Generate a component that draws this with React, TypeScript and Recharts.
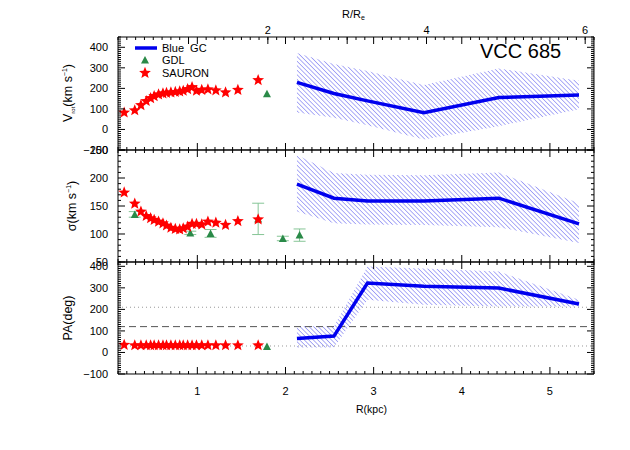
import React from 'react';
import { ComposedChart, Line, Area, Scatter, XAxis, YAxis, ReferenceLine, ErrorBar } from 'recharts';

// galaxy effective radius in kpc, used for the upper R/Re axis
const RE = 0.9;

const kpcTicks = [1, 2, 3, 4, 5];
const reTicks = [1, 2, 3, 4, 5, 6];
const reLabels = ['', '2', '', '4', '', '6'];
const vTicks = [-100, 0, 100, 200, 300, 400];
const sigTicks = [50, 100, 150, 200, 250];
const paTicks = [-100, 0, 100, 200, 300, 400];

// SAURON (stars)
const sauronR = [0.17, 0.29, 0.36, 0.42, 0.47, 0.51, 0.56, 0.61, 0.65, 0.7, 0.75, 0.8, 0.84, 0.89, 0.94, 0.99, 1.05, 1.12, 1.21, 1.32, 1.46, 1.69];
const sauronV = [82, 93, 118, 138, 152, 162, 170, 175, 178, 180, 182, 185, 188, 196, 206, 188, 192, 195, 190, 180, 192, 240];
const sauronSig = [174, 154, 140, 132, 128, 125, 122, 119, 115, 111, 109, 108, 110, 113, 118, 118, 117, 122, 120, 116, 123, 126];
const sauronPA = [35, 33, 33, 33, 33, 33, 33, 33, 33, 33, 33, 33, 33, 33, 33, 33, 33, 33, 33, 33, 33, 33];

// GDL (triangles)
const gdlVR = [1.79];
const gdlV = [174];
const gdlSigR = [0.29, 0.92, 1.15, 1.69, 1.97, 2.16];
const gdlSig = [135, 102, 101, 127, 92, 98];
const gdlSigErr = [5, 3, 7, 28, 4, 11];
const gdlPAR = [1.79];
const gdlPA = [28];

// Blue GCs (line + hatched band)
const gcR = [2.13, 2.55, 2.93, 3.57, 4.42, 5.33];
const gcV = [229, 175, 139, 82, 155, 168];
const gcVLo = [82, 57, 20, -49, 16, 98];
const gcVHi = [372, 319, 284, 216, 297, 237];
const gcSig = [189, 164, 159, 159, 164, 118];
const gcSigLo = [140, 119, 117, 116, 112, 84];
const gcSigHi = [241, 209, 206, 205, 210, 155];
const gcPA = [65, 76, 322, 308, 299, 225];
const gcPALo = [23, 23, 245, 222, 214, 214];
const gcPAHi = [122, 122, 399, 390, 376, 245];

const W = 630;
const H = 450;
const LEFT = 118;
const RIGHT = 36;
const PR = W - RIGHT; // plot right edge
const AX = 0.01; // axes need a non-zero size to be drawn
const FONT = '"Liberation Sans", "DejaVu Sans", sans-serif';
const BLUE = '#0000ee';
const RED = '#ff0000';
const GREEN = '#2a8a48';
const XDOM = [0.1, 5.5];

const range = (a: number, b: number, s: number) => {
  const out: number[] = [];
  for (let v = a; v <= b + 1e-9; v += s) out.push(Math.round(v * 1000) / 1000);
  return out;
};

const pts = (xs: number[], ys: number[], err?: number[]) =>
  xs.map((x, i) => ({ x, y: ys[i], err: err ? err[i] : 0 }));

const band = (v: number[], lo: number[], hi: number[]) =>
  gcR.map((x, i) => ({ x, v: v[i], range: [lo[i], hi[i]] }));

const fmt = (v: number) => String(v).replace('-', '\u2212');

const starPoints = (cx: number, cy: number, R: number, r: number) => {
  const p: string[] = [];
  for (let i = 0; i < 10; i++) {
    const a = -Math.PI / 2 + (i * Math.PI) / 5;
    const rad = i % 2 === 0 ? R : r;
    p.push(`${cx + rad * Math.cos(a)},${cy + rad * Math.sin(a)}`);
  }
  return p.join(' ');
};

const Star = (props: any) => <polygon points={starPoints(props.cx, props.cy, 6.2, 2.7)} fill={RED} />;
const Tri = (props: any) => (
  <polygon points={`${props.cx - 4},${props.cy + 3.5} ${props.cx + 4},${props.cy + 3.5} ${props.cx},${props.cy - 4}`} fill={GREEN} />
);

// inward IDL-style ticks on bottom and top edge of a panel
const XTick = (props: any) => {
  const { x, payload, top, bottom, majors, showLabel } = props;
  const v = payload.value;
  const major = majors.some((m: number) => Math.abs(m - v) < 1e-6);
  const len = major ? 7 : 3;
  return (
    <g>
      <line x1={x} y1={bottom} x2={x} y2={bottom - len} stroke="#000" />
      <line x1={x} y1={top} x2={x} y2={top + len} stroke="#000" />
      {major && showLabel && (
        <text x={x} y={bottom + 21} textAnchor="middle" fontSize={11} fontFamily={FONT} fill="#000">{fmt(v)}</text>
      )}
    </g>
  );
};

// inward ticks on left and right edge of a panel
const YTick = (props: any) => {
  const { y, payload, majors } = props;
  const v = payload.value;
  const major = majors.includes(v);
  const len = major ? 7 : 3;
  return (
    <g>
      <line x1={LEFT} y1={y} x2={LEFT + len} y2={y} stroke="#000" />
      <line x1={PR} y1={y} x2={PR - len} y2={y} stroke="#000" />
      {major && (
        <text x={108} y={y + 4} textAnchor="end" fontSize={11} fontFamily={FONT} fill="#000">{fmt(v)}</text>
      )}
    </g>
  );
};

// upper R/Re axis
const ReTick = (props: any) => {
  const { x, payload, top } = props;
  const label = reLabels[Math.round(payload.value / RE) - 1];
  return (
    <g>
      <line x1={x} y1={top} x2={x} y2={top + 7} stroke="#000" />
      <text x={x} y={top - 3} textAnchor="middle" fontSize={11} fontFamily={FONT} fill="#000">{label}</text>
    </g>
  );
};

type PanelProps = {
  top: number;
  bottom: number;
  domain: number[];
  ticks: number[];
  showX?: boolean;
  children: React.ReactNode;
};

const Panel = ({ top, bottom, domain, ticks, showX, children }: PanelProps) => {
  const xMinor = range(XDOM[0], XDOM[1], 0.1);
  const yMinor = range(domain[0], domain[1], 10);
  return (
    <div style={{ position: 'absolute', left: 0, top: 0 }}>
      <ComposedChart width={W} height={H} data={[]} margin={{ top, bottom: H - bottom, left: LEFT, right: RIGHT }}>
        <defs>
          <pattern id={`hatch${top}`} patternUnits="userSpaceOnUse" width="3.2" height="3.2" patternTransform="rotate(-45)">
            <line x1="0" y1="0" x2="0" y2="3.2" stroke="#4a4aee" strokeWidth="0.9" />
          </pattern>
        </defs>
        <XAxis xAxisId="b" dataKey="x" type="number" domain={XDOM} allowDataOverflow ticks={xMinor} interval={0}
          height={AX} tickLine={false} stroke="#000"
          tick={<XTick top={top} bottom={bottom} majors={kpcTicks} showLabel={showX} />} />
        <XAxis xAxisId="t" orientation="top" type="number" domain={XDOM} allowDataOverflow ticks={kpcTicks}
          height={AX} tickLine={false} tick={false} stroke="#000" />
        <XAxis xAxisId="re" orientation="top" dataKey="x" type="number" domain={XDOM} allowDataOverflow
          ticks={top < 100 ? reTicks.map((r) => r * RE) : []} interval={0} height={AX} tickLine={false} axisLine={false}
          tick={<ReTick top={top} />} />
        <YAxis yAxisId="l" type="number" domain={domain} allowDataOverflow ticks={yMinor} interval={0} width={AX}
          tickLine={false} stroke="#000" tick={<YTick majors={ticks} />} />
        <YAxis yAxisId="r" orientation="right" type="number" domain={domain} allowDataOverflow ticks={ticks} width={AX}
          tickLine={false} tick={false} stroke="#000" />
        {children}
      </ComposedChart>
    </div>
  );
};

const gcSeries = (top: number, data: any[]) => [
  <Area key="a" xAxisId="re" yAxisId="l" data={data} dataKey="range" type="linear" stroke="none"
    fill={`url(#hatch${top})`} fillOpacity={1} isAnimationActive={false} />,
  <Line key="l" xAxisId="re" yAxisId="l" data={data} dataKey="v" type="linear" stroke={BLUE} strokeWidth={3.5}
    dot={false} isAnimationActive={false} />,
];

export default function App() {
  return (
    <div style={{ position: 'absolute', left: 0, top: 0, width: W, height: H, background: '#fff', fontFamily: FONT }}>
      <Panel top={37} bottom={150} domain={[-100, 450]} ticks={vTicks}>
        {gcSeries(37, band(gcV, gcVLo, gcVHi))}
        <Scatter xAxisId="b" yAxisId="l" data={pts(sauronR, sauronV)} dataKey="y" shape={Star} isAnimationActive={false} />
        <Scatter xAxisId="b" yAxisId="l" data={pts(gdlVR, gdlV)} dataKey="y" shape={Tri} isAnimationActive={false} />
      </Panel>
      <Panel top={150} bottom={262} domain={[50, 250]} ticks={sigTicks}>
        {gcSeries(150, band(gcSig, gcSigLo, gcSigHi))}
        <Scatter xAxisId="b" yAxisId="l" data={pts(gdlSigR, gdlSig, gdlSigErr)} dataKey="y" shape={Tri} isAnimationActive={false}>
          <ErrorBar dataKey="err" direction="y" width={6} stroke="#86c596" strokeWidth={1} />
        </Scatter>
        <Scatter xAxisId="b" yAxisId="l" data={pts(sauronR, sauronSig)} dataKey="y" shape={Star} isAnimationActive={false} />
      </Panel>
      <Panel top={262} bottom={374} domain={[-100, 420]} ticks={paTicks} showX>
        <ReferenceLine xAxisId="b" yAxisId="l" y={210} stroke="#999" strokeDasharray="1 3" />
        <ReferenceLine xAxisId="b" yAxisId="l" y={120} stroke="#555" strokeDasharray="7 4" />
        <ReferenceLine xAxisId="b" yAxisId="l" y={30} stroke="#999" strokeDasharray="1 3" />
        {gcSeries(262, band(gcPA, gcPALo, gcPAHi))}
        <Scatter xAxisId="b" yAxisId="l" data={pts(sauronR, sauronPA)} dataKey="y" shape={Star} isAnimationActive={false} />
        <Scatter xAxisId="b" yAxisId="l" data={pts(gdlPAR, gdlPA)} dataKey="y" shape={Tri} isAnimationActive={false} />
      </Panel>
      <svg width={W} height={H} style={{ position: 'absolute', left: 0, top: 0, pointerEvents: 'none' }} fontFamily={FONT}>
        {/* legend */}
        <line x1={135} y1={48} x2={157} y2={48} stroke={BLUE} strokeWidth={3.5} />
        <text x={162} y={52} fontSize={11} wordSpacing={3}>Blue GC</text>
        <Tri cx={145} cy={60} />
        <text x={162} y={64} fontSize={11}>GDL</text>
        <Star cx={145} cy={73} />
        <text x={162} y={77} fontSize={11}>SAURON</text>
        <text x={480} y={58} fontSize={20}>VCC 685</text>
        {/* axis titles */}
        <text x={342} y={18} fontSize={11}>R/R<tspan fontSize={7} dy={2}>e</tspan></text>
        <text x={356} y={413} fontSize={10.5}>R(kpc)</text>
        <text transform="translate(72,93) rotate(-90)" textAnchor="middle" fontSize={12.5}>
          V<tspan fontSize={6} dy={3}>rot</tspan><tspan dy={-3}>(km  s</tspan><tspan fontSize={7} dy={-5}>−1</tspan><tspan dy={5}>)</tspan>
        </text>
        <text transform="translate(76,206) rotate(-90)" textAnchor="middle" fontSize={12.5}>
          σ(km  s<tspan fontSize={7} dy={-5}>−1</tspan><tspan dy={5}>)</tspan>
        </text>
        <text transform="translate(72,318) rotate(-90)" textAnchor="middle" fontSize={12.5}>PA(deg)</text>
      </svg>
    </div>
  );
}
